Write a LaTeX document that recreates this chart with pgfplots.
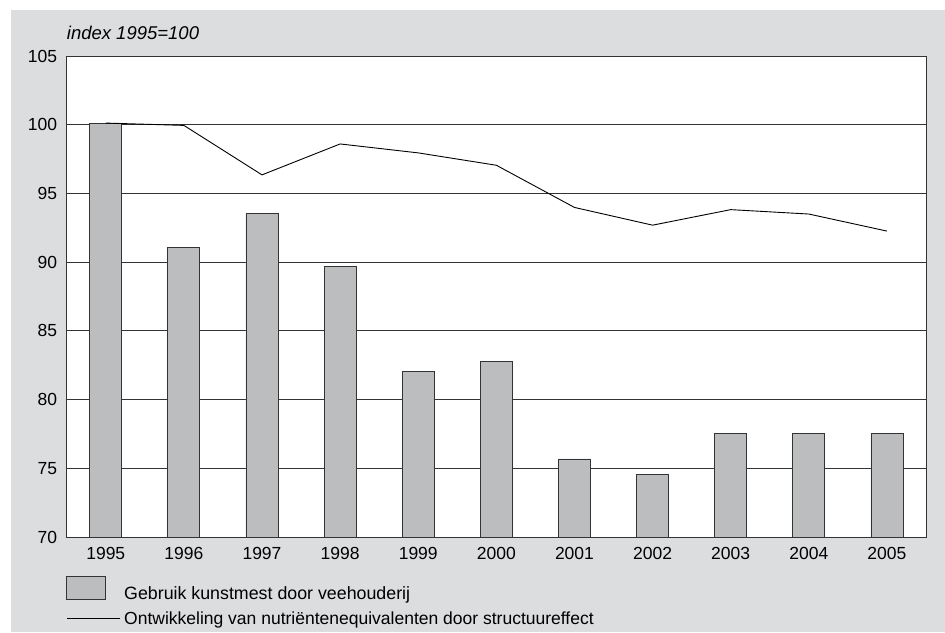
\documentclass[border=0pt]{standalone}
\usepackage{pgfplots}
\pgfplotsset{compat=1.18}
\usepackage{fontspec}
\setmainfont{Liberation Sans}
\definecolor{bg}{HTML}{DCDDDF}
\definecolor{barc}{HTML}{BCBDBF}
\definecolor{ln}{HTML}{333333}
\begin{document}
\begin{tikzpicture}[x=1pt,y=1pt]
\useasboundingbox (0,0) rectangle (945,632);
\fill[bg] (11,0) rectangle (945,622);
\begin{axis}[
  at={(66.7pt,95pt)}, anchor=south west,
  scale only axis, width=859.3pt, height=481pt,
  xmin=-0.5, xmax=10.5, ymin=70, ymax=105,
  ytick={70,75,80,85,90,95,100,105},
  xtick={0,1,2,3,4,5,6,7,8,9,10},
  xticklabels={1995,1996,1997,1998,1999,2000,2001,2002,2003,2004,2005},
  major tick length=0pt,
  ymajorgrids,
  grid style={ln, line width=0.8pt},
  axis line style={ln, line width=0.8pt},
  axis background/.style={fill=white},
  tick label style={font=\fontsize{17.5}{21}\selectfont, black},
  yticklabel style={xshift=-6pt},
  xticklabel style={yshift=-7pt},
  /pgf/number format/assume math mode=true,
  /pgf/number format/1000 sep={},
]
\addplot[ybar, bar width=0.41, bar shift=0pt, fill=barc, draw=ln, line width=0.8pt]
 coordinates {(0,100.1) (1,91.1) (2,93.55) (3,89.7) (4,82.07) (5,82.8) (6,75.68) (7,74.55) (8,77.52) (9,77.52) (10,77.52)};
\addplot[black, line width=0.9pt, mark=none]
 coordinates {(0,100.12) (1,99.95) (2,96.35) (3,98.6) (4,97.95) (5,97.05) (6,93.98) (7,92.69) (8,93.82) (9,93.5) (10,92.26)};
\end{axis}
\node[anchor=base west, inner sep=0pt, font=\fontsize{18.5}{22}\selectfont\itshape] at (66.7,592) {index 1995=100};
\draw[ln, line width=0.8pt, fill=barc] (66.7,32.7) rectangle (105.3,56);
\node[anchor=base west, inner sep=0pt, font=\fontsize{17.8}{21}\selectfont] at (124,32.7) {Gebruik kunstmest door veehouderij};
\draw[black, line width=0.9pt] (67,13.7) -- (120,13.7);
\node[anchor=base west, inner sep=0pt, font=\fontsize{17.5}{21}\selectfont] at (124,7.5) {Ontwikkeling van nutriëntenequivalenten door structuureffect};
\end{tikzpicture}
\end{document}
